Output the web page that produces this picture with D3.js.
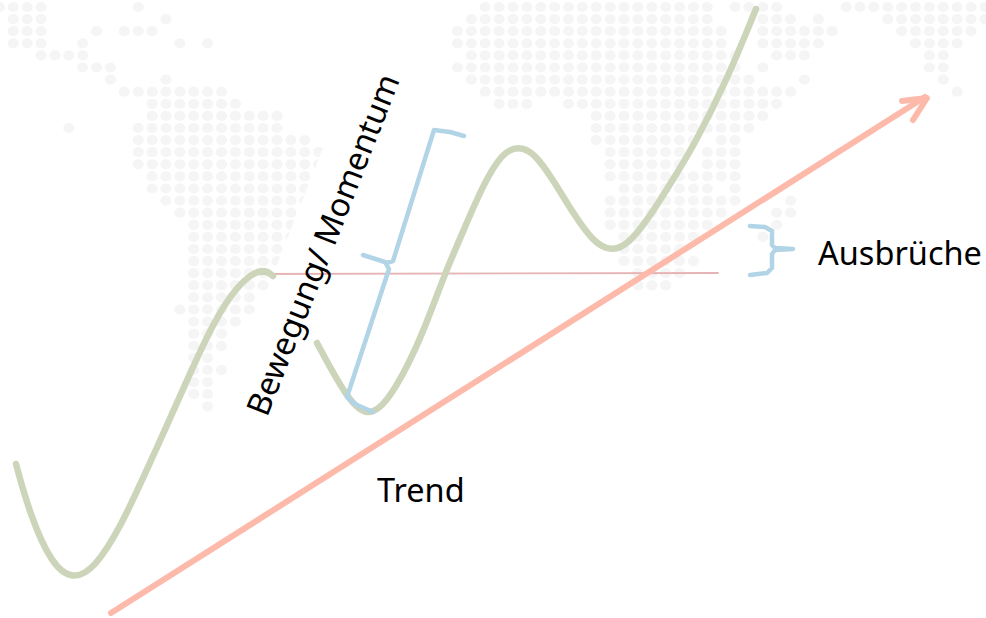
<!DOCTYPE html>
<html>
<head>
<meta charset="utf-8">
<style>
  body { margin: 0; background: #fff; }
  text { font-family: "Noto Sans"; fill: #000; }
</style>
<script src="https://cdn.jsdelivr.net/npm/d3@7"></script>
</head>
<body>
<div id="chart"></div>
<script>
const width = 986, height = 618;

// price swings, [time, level]
const swingOne = [[16,154],[30,103],[52,53],[73,38],[95,50],[120,90],[143,140],[165,188],[187,238],[213,295],[237,333],[262,351],[273,342]];
const swingTwo = [[317,275],[347,219],[368,200],[388,217],[408,253],[423,285],[445,345],[465,391],[483,433],[502,465],[518,472],[535,465],[555,435],[573,405],[593,376],[612,366],[630,375],[653,406],[680,450],[693,471],[727,538],[756,609]];
const trendLine = [[111,5],[925,521]];
const trendHead = [[902,517],[927,520],[913,498]];
const breakLine = [[252,344],[718,345]];
const moveBraceTop = [[464,482],[450,486],[434,488],[393,357],[386,355]];
const moveBraceBottom = [[363,363],[385,356],[389,349],[347,221],[355,214],[373,206]];
const breakBrace = [[750,392],[765,391],[772,387],[772,373],[775,370],[793,369],[775,368],[772,364],[772,350],[767,345],[750,343]];

// dotted world map: row index -> [first column, last column] runs
const mapRows = [
  [[4,4],[9,9]],
  [[0,3],[10,10],[35,51],[53,56],[61,71]],
  [[1,3],[12,12],[34,51],[55,57],[59,59],[64,71]],
  [[1,3],[7,7],[9,11],[33,52],[55,60],[65,70]],
  [[1,3],[6,6],[13,13],[15,15],[33,52],[55,59],[66,69]],
  [[3,6],[34,53],[56,58],[67,68]],
  [[6,8],[33,53],[55,55],[67,68]],
  [[8,8],[12,12],[34,54],[58,58],[68,68]],
  [[9,16],[35,57],[69,69]],
  [[11,17],[36,38],[41,56]],
  [[11,20],[43,55]],
  [[5,5],[10,20],[43,54]],
  [[10,22],[43,50],[52,53]],
  [[10,23],[44,49],[51,53]],
  [[10,23],[44,49],[51,53]],
  [[11,22],[44,53]],
  [[11,22],[45,51],[53,53]],
  [[12,22],[44,53],[57,57]],
  [[13,21],[44,52],[56,57]],
  [[14,21],[44,51],[56,56]],
  [[14,21],[45,50],[55,55]],
  [[14,20],[45,49]],
  [[14,20],[45,50]],
  [[14,19],[46,49]],
  [[14,19],[46,48]],
  [[14,18]],
  [[13,18]],
  [[14,17]],
  [[14,16]],
  [[14,16]],
  [[14,15]],
  [[14,16]],
  [[14,15]],
  [[14,15]],
  [[15,15]]
];

const x = d3.scaleLinear().domain([0, width]).range([0, width]);
const y = d3.scaleLinear().domain([0, height]).range([height, 0]);
const col = d3.scaleLinear().domain([0, 71]).range([-0.6, 984.9]);
const row = d3.scaleLinear().domain([0, 34]).range([-5.1, 406.3]);

const svg = d3.select("#chart")
    .append("svg")
    .attr("width", width)
    .attr("height", height)
    .attr("viewBox", [0, 0, width, height])
    .style("display", "block");

const dots = mapRows.flatMap((runs, r) =>
    runs.flatMap(([a, b]) => d3.range(a, b + 1).map(c => ({ r, c }))));

svg.append("g")
    .selectAll("ellipse")
    .data(dots)
    .enter()
    .append("ellipse")
    .attr("cx", d => col(d.c))
    .attr("cy", d => row(d.r))
    .attr("rx", 5.6)
    .attr("ry", 5.1)
    .attr("fill", "#f5f5f5");

// white box of the rotated label hides part of the map
svg.append("rect")
    .attr("width", 340)
    .attr("height", 80)
    .attr("fill", "#fff")
    .attr("transform", "translate(217,417) rotate(-68.5)");

const smooth = d3.line().x(d => x(d[0])).y(d => y(d[1])).curve(d3.curveBasis);
const straight = d3.line().x(d => x(d[0])).y(d => y(d[1]));

const stroke = (path, gen, color, w) => svg.append("path")
    .attr("d", gen(path))
    .attr("fill", "none")
    .attr("stroke", color)
    .attr("stroke-width", w)
    .attr("stroke-linecap", "round")
    .attr("stroke-linejoin", "round");

stroke(breakLine, straight, "#e6b4b4", 1.8);
stroke(swingOne, smooth, "#ccd5b9", 6.5);
stroke(swingTwo, smooth, "#ccd5b9", 6.5);
stroke(trendLine, straight, "#fdb9a9", 6);
stroke(trendHead, straight, "#fdb9a9", 6);
stroke(moveBraceTop, straight, "#b1d4e7", 4.5);
stroke(moveBraceBottom, straight, "#b1d4e7", 4.5);
stroke(breakBrace, straight, "#b1d4e7", 4.5);

const label = (t, px, py, rot) => svg.append("text")
    .attr("transform", `translate(${px},${py}) rotate(${rot})`)
    .attr("font-size", 32.5)
    .text(t);

label("Trend", 377, 502, 0);
label("Ausbrüche", 818, 265, 0);
label("Bewegung/ Momentum", 267, 418, -68.5);
</script>
</body>
</html>
